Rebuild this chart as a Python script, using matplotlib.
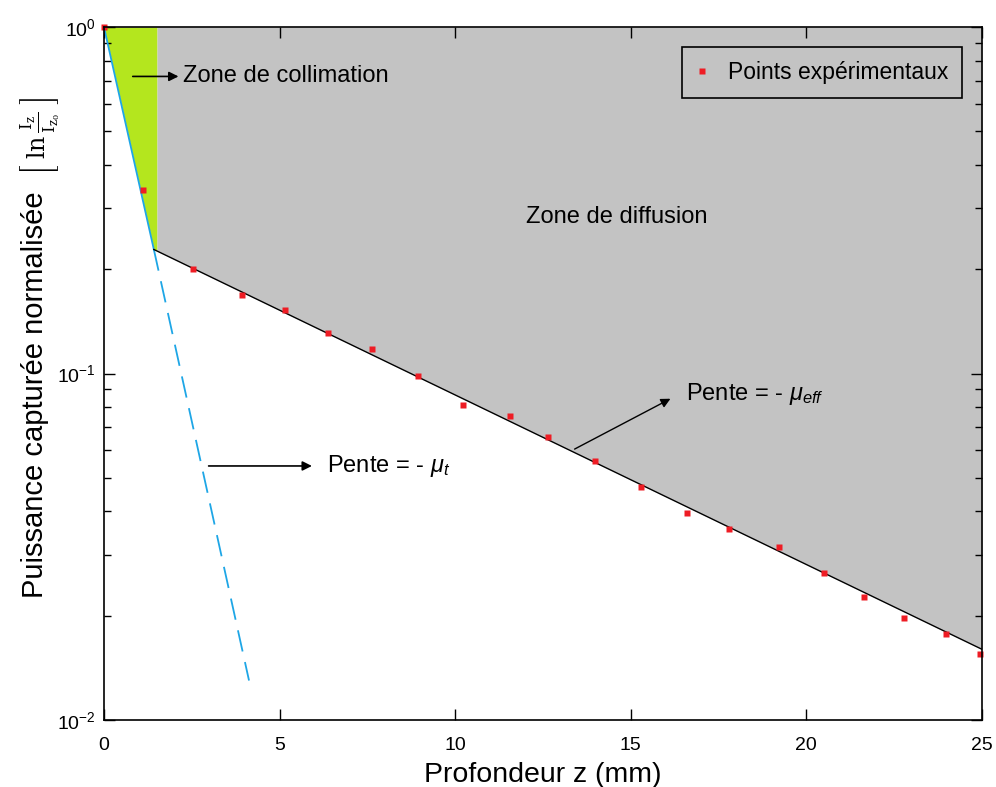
import numpy as np
import matplotlib
matplotlib.use("Agg")
import matplotlib.pyplot as plt
from matplotlib.ticker import LogLocator, NullFormatter, FixedLocator

plt.rcParams['font.family'] = ['Liberation Sans', 'DejaVu Sans']
plt.rcParams['mathtext.fontset'] = 'custom'
plt.rcParams['mathtext.rm'] = 'Liberation Sans'
plt.rcParams['mathtext.it'] = 'Liberation Sans:italic'

# Experimental points
z_exp = [0.0, 1.11, 2.53, 3.93, 5.15, 6.38, 7.63, 8.94, 10.22, 11.56, 12.64,
         13.98, 15.29, 16.60, 17.80, 19.22, 20.50, 21.64, 22.78, 23.97, 24.94]
p_exp = [1.0, 0.339, 0.200, 0.168, 0.152, 0.131, 0.118, 0.0984, 0.0811, 0.0754, 0.0655,
         0.0558, 0.0470, 0.0395, 0.0356, 0.0315, 0.0265, 0.0226, 0.0197, 0.0177, 0.0155]

# Fitted lines
z_knee = 1.42
p_knee = 0.228
z_t_end = 4.13
p_t_end = 0.0130
z_eff_end = 25.0
p_eff_end = 0.0160
z_coll_edge = 1.51

fig = plt.figure(figsize=(9.96, 7.87), dpi=100)
ax = fig.add_axes([0.1044, 0.0851, 0.8815, 0.8806])
ax.set_yscale('log')
ax.set_xlim(0, 25)
ax.set_ylim(0.01, 1)

# regions
def t_line(z):
    return 10 ** (np.log10(p_knee) * z / z_knee)
def eff_line(z):
    s = (np.log10(p_eff_end) - np.log10(p_knee)) / (z_eff_end - z_knee)
    return 10 ** (np.log10(p_knee) + s * (z - z_knee))

zg = np.linspace(0, z_coll_edge, 50)
lower_g = np.where(zg <= z_knee, t_line(zg), eff_line(zg))
ax.fill_between(zg, lower_g, 1, color='#b4e61e', lw=0, zorder=1)
zd = np.linspace(z_coll_edge, 25, 50)
ax.fill_between(zd, eff_line(zd), 1, color='#c3c3c3', lw=0, zorder=1)

# lines
ax.plot([0, z_knee], [1.0, p_knee], color='#1ea6e6', lw=1.3, zorder=3)
ax.plot([z_knee, z_t_end], [p_knee, p_t_end], color='#1ea6e6', lw=1.3,
        dashes=(12, 6), zorder=3)
ax.plot([z_knee, z_eff_end], [p_knee, p_eff_end], color='black', lw=1.0, zorder=3)

ax.plot(z_exp, p_exp, 's', color='#ee1c24', ms=4.5, mec='none', ls='none',
        label='Points expérimentaux', zorder=4, clip_on=False)

# annotations
fs = 17
ax.annotate('', xy=(2.2, 0.72), xytext=(0.74, 0.72),
            arrowprops=dict(arrowstyle='-|>', color='black', lw=1.2, mutation_scale=14))
ax.text(2.25, 0.72, 'Zone de collimation', fontsize=fs, va='center', ha='left')
ax.text(14.6, 0.283, 'Zone de diffusion', fontsize=fs, va='center', ha='center')
ax.annotate('', xy=(16.2, 0.0853), xytext=(13.33, 0.060),
            arrowprops=dict(arrowstyle='-|>', color='black', lw=1.0, mutation_scale=14))
ax.text(16.57, 0.0875, r'Pente = - $\mathit{\mu}_{\mathit{eff}}$', fontsize=fs, va='center', ha='left')
ax.annotate('', xy=(6.0, 0.0541), xytext=(2.9, 0.0541),
            arrowprops=dict(arrowstyle='-|>', color='black', lw=1.2, mutation_scale=14))
ax.text(6.35, 0.0541, r'Pente = - $\mathit{\mu}_{\mathit{t}}$', fontsize=fs, va='center', ha='left')

# ticks
ax.xaxis.set_major_locator(FixedLocator([0, 5, 10, 15, 20, 25]))
ax.yaxis.set_major_locator(FixedLocator([0.01, 0.1, 1]))
ax.yaxis.set_minor_locator(LogLocator(base=10, subs=np.arange(2, 10)))
ax.yaxis.set_minor_formatter(NullFormatter())
ax.set_yticklabels([r'$10^{-2}$', r'$10^{-1}$', r'$10^{0}$'])
ax.tick_params(which='both', direction='in', top=True, right=True, labelsize=14, width=1.0)
ax.tick_params(which='major', length=8)
ax.tick_params(which='minor', length=5)
ax.tick_params(axis='y', pad=6)
ax.tick_params(axis='x', pad=12)
for s in ax.spines.values():
    s.set_linewidth(1.2)
    s.set_zorder(5)

ax.set_xlabel('Profondeur z (mm)', fontsize=20.5, labelpad=6)
fig.text(35 / 996, 1 - 395 / 787, 'Puissance capturée normalisée', rotation=90,
         fontsize=21, ha='center', va='center')
fig.text(40 / 996, 1 - 136 / 787,
         r'$\left[\;\mathrm{ln}\,\frac{\mathrm{I}_{\mathrm{z}}}{\mathrm{I}_{\mathrm{z}_0}}\;\right]$',
         rotation=90, fontsize=17, ha='center', va='center', math_fontfamily='dejavuserif')

leg = ax.legend(loc='upper right', bbox_to_anchor=(0.977, 0.971), borderaxespad=0,
                fontsize=16.5, frameon=True, fancybox=False, edgecolor='black',
                facecolor='#c3c3c3', framealpha=1,
                handlelength=0.6, handletextpad=0.8, borderpad=0.6, markerscale=1.0)
leg.get_frame().set_linewidth(1.2)
leg.set_zorder(6)

fig.savefig('out.png', dpi=100)
